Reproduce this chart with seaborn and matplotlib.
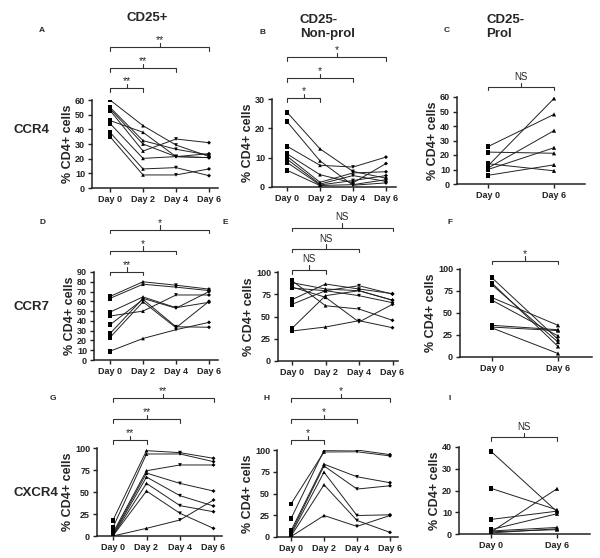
import pandas as pd
import matplotlib
matplotlib.use("Agg")
import matplotlib.pyplot as plt
import seaborn as sns

days4 = ["Day 0", "Day 2", "Day 4", "Day 6"]
days2 = ["Day 0", "Day 6"]

# CCR4
a_day0 = [60, 55, 54, 53, 46, 44, 38, 35]
a_day2 = [42.5, 32.3, 30, 25.2, 38, 20.2, 13, 8.9]
a_day4 = [29.3, 26.4, 21.4, 33.4, 21.4, 21.4, 13.9, 8.9]
a_day6 = [21.5, 22.5, 20.7, 30.9, 23.4, 20.7, 8.4, 13]

b_day0 = [25.5, 22.3, 13.9, 11.3, 10.5, 9.5, 8.4, 5.7]
b_day2 = [13, 8.9, 7.4, 4.2, 1.6, 1, 0.7, 0.5]
b_day4 = [5.3, 0.6, 6.8, 1.4, 4.8, 3.9, 2.2, 0.8]
b_day6 = [3, 1.4, 10.2, 8, 5.2, 1.9, 3.9, 2.5]

c_day0 = [25.8, 22, 12.5, 11, 10, 14, 6]
c_day6 = [48, 21.2, 59, 36.8, 25, 9.1, 13.2]

# CCR7
d_day0 = [65, 63, 49, 45, 36, 27, 23, 9]
d_day2 = [80, 77.5, 64.5, 50, 62, 63, 59.5, 22]
d_day4 = [76.5, 74.5, 53.5, 66.5, 34, 53, 33, 31]
d_day6 = [72.5, 71, 59, 66.5, 33.5, 70, 60, 38.5]

e_day0 = [90.2, 88, 83.1, 82, 68.9, 63.7, 36.7, 33.7]
e_day2 = [62.1, 80.9, 71.6, 79, 86.5, 79, 73.4, 38.2]
e_day4 = [58.4, 79, 43.8, 73.4, 80.9, 84.6, 79, 45.3]
e_day6 = [45.7, 68.3, 63.7, 65.5, 75.7, 75.1, 68.3, 37.4]

f_day0 = [90, 84, 82, 67.5, 64.5, 36, 34, 33]
f_day6 = [20, 12, 17, 36, 24, 31, 30, 4]

# CXCR4
g_day0 = [18, 9.8, 3.8, 2, 1.1, 0.5, 0.3, 0]
g_day2 = [97, 93.2, 74.2, 71.5, 67, 59.8, 51.1, 8.7]
g_day4 = [94.7, 93.2, 80.7, 59.8, 45.8, 34.5, 25.8, 18.2]
g_day6 = [88.3, 84.5, 80.7, 51.1, 34.1, 27.6, 8.7, 40.9]

h_day0 = [38, 21, 7.2, 4.6, 2.7, 1.1, 0.5]
h_day2 = [97.7, 99.6, 83.7, 81.7, 74.5, 60, 24.7]
h_day4 = [98, 100, 69.2, 55.1, 24.7, 19, 12.2]
h_day6 = [93.2, 94.7, 62.4, 58.9, 25.5, 5.3, 24.7]

i_day0 = [38, 21, 6.7, 2, 1.4, 0.9, 0.5, 1.0]
i_day6 = [10.3, 11.1, 10.5, 9.3, 3, 20.8, 2.4, 2.0]

sns.set_style("ticks")
plt.rcParams["font.family"] = ["Liberation Sans", "DejaVu Sans"]

W, H = 600, 558
fig = plt.figure(figsize=(6, 5.58), dpi=100)


def long_table(series, labels):
    rows = []
    for pos, (day, vals) in enumerate(zip(labels, series)):
        for subj, v in enumerate(vals):
            rows.append({"Day": day, "pos": pos, "subject": subj, "value": v})
    return pd.DataFrame(rows)


def bracket(ax, x0, x1, off_px, h_px, label):
    tr = ax.get_xaxis_transform()
    y = 1 + off_px / h_px
    d = 3.5 / h_px
    up = 4.5 / h_px
    xm = (x0 + x1) / 2
    ax.plot([x0, x0, x1, x1], [y - d, y, y, y - d], color="#333333", lw=0.8,
            transform=tr, clip_on=False)
    ax.plot([xm, xm], [y, y + up], color="#333333", lw=0.8, transform=tr, clip_on=False)
    if label == "NS":
        ax.text(xm, y + up + 1 / h_px, label, transform=tr, ha="center", va="bottom",
                fontsize=7)
    else:
        ax.text(xm, y + up - 3 / h_px, label, transform=tr, ha="center", va="bottom",
                fontsize=7.5)


def panel(box, series, labels, ymax, ystep, brackets, letter, letter_xy):
    left, top, right, bottom, d0, step = box
    ax = fig.add_axes([left / W, 1 - bottom / H, (right - left) / W, (bottom - top) / H])
    df = long_table(series, labels)
    if len(labels) == 4:
        markers = {"Day 0": "s", "Day 2": "^", "Day 4": "v", "Day 6": "D"}
        sizes = {"Day 0": 12, "Day 2": 7, "Day 4": 7, "Day 6": 4}
    else:
        markers = {"Day 0": "s", "Day 6": "^"}
        sizes = {"Day 0": 12, "Day 6": 9}
    sns.lineplot(data=df, x="pos", y="value", units="subject", estimator=None,
                 color="#222222", lw=0.7, ax=ax, legend=False)
    sns.scatterplot(data=df, x="pos", y="value", style="Day", markers=markers,
                    size="Day", sizes=sizes, color="black", linewidth=0,
                    ax=ax, legend=False, zorder=3)
    ax.set_xlim((left - d0) / step, (right - d0) / step)
    ax.set_ylim(0, ymax)
    ax.set_xticks(range(len(labels)))
    ax.set_xticklabels(labels)
    ax.set_yticks(range(0, ymax + 1, ystep))
    ax.set_xlabel("")
    ax.set_ylabel("% CD4+ cells", fontsize=9, fontweight="bold", labelpad=1)
    for lab in ax.get_xticklabels() + ax.get_yticklabels():
        lab.set_fontsize(6.5)
        lab.set_fontweight("bold")
    sns.despine(ax=ax)
    for s in ["left", "bottom"]:
        ax.spines[s].set_linewidth(1.1)
        ax.spines[s].set_color("#222222")
    ax.tick_params(length=3, width=1, pad=2, colors="#222222")
    h_px = bottom - top
    for k, (off, lab) in enumerate(brackets):
        bracket(ax, 0, k + 1 if len(labels) == 4 else 1, off, h_px, lab)
    fig.text(letter_xy[0] / W, 1 - letter_xy[1] / H, letter, ha="center", va="center",
             fontsize=6, fontweight="bold")
    return ax


panel((92, 100, 218, 188, 110, 33), [a_day0, a_day2, a_day4, a_day6], days4, 60, 10,
      [(12, "**"), (32, "**"), (53, "**")], "A", (42, 31))
panel((272, 99, 396, 187, 287, 33), [b_day0, b_day2, b_day4, b_day6], days4, 30, 10,
      [(1, "*"), (21, "*"), (42, "*")], "B", (262, 32))
panel((457, 97, 585, 184, 488, 66), [c_day0, c_day6], days2, 60, 10,
      [(10, "NS")], "C", (447, 31))
panel((94, 272, 218, 360, 110, 33), [d_day0, d_day2, d_day4, d_day6], days4, 90, 10,
      [(0, "**"), (21, "*"), (42, "*")], "D", (43, 223))
panel((278, 272, 398, 361, 292, 33.5), [e_day0, e_day2, e_day4, e_day6], days4, 100, 25,
      [(2, "NS"), (23, "NS"), (44, "NS")], "E", (225, 223))
panel((460, 269, 592, 357, 492, 66), [f_day0, f_day6], days2, 100, 25,
      [(8, "*")], "F", (450, 223))
panel((97, 448, 222, 536, 113, 33.5), [g_day0, g_day2, g_day4, g_day6], days4, 100, 25,
      [(8, "**"), (29, "**"), (50, "**")], "G", (53, 398))
panel((277, 450, 398, 537, 291, 33), [h_day0, h_day2, h_day4, h_day6], days4, 100, 25,
      [(10, "*"), (31, "*"), (52, "*")], "H", (267, 399))
panel((459, 447, 590, 534, 491, 66), [i_day0, i_day6], days2, 40, 10,
      [(10, "NS")], "I", (450, 399))

head = dict(fontsize=9.5, fontweight="bold", va="center")
fig.text(147 / W, 1 - 18 / H, "CD25+", ha="center", **head)
fig.text(300 / W, 1 - 20 / H, "CD25-", ha="left", **head)
fig.text(300 / W, 1 - 34 / H, "Non-prol", ha="left", **head)
fig.text(486 / W, 1 - 20 / H, "CD25-", ha="left", **head)
fig.text(486 / W, 1 - 34 / H, "Prol", ha="left", **head)

fig.text(13 / W, 1 - 130 / H, "CCR4", ha="left", **head)
fig.text(13 / W, 1 - 307 / H, "CCR7", ha="left", **head)
fig.text(13 / W, 1 - 493 / H, "CXCR4", ha="left", **head)

fig.savefig("out.png", dpi=100, facecolor="white")
